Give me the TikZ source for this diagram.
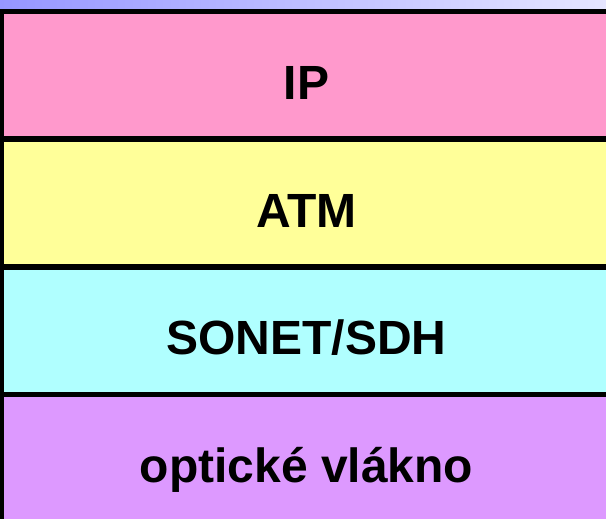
\documentclass[tikz,border=0pt]{standalone}
\usepackage{fontspec}
\setmainfont{Liberation Sans}
\definecolor{lypink}{RGB}{255,153,204}
\definecolor{lyyellow}{RGB}{255,255,153}
\definecolor{lycyan}{RGB}{176,255,255}
\definecolor{lypurple}{RGB}{221,153,255}
\definecolor{barleft}{RGB}{150,150,255}
\definecolor{barright}{RGB}{230,230,255}

\begin{document}
\begin{tikzpicture}[x=1pt, y=-1pt,
  layer/.style={draw=black, line width=5.5pt, rectangle, inner sep=0pt, outer sep=0pt,
    minimum width=610pt, minimum height=127.7pt, text height=48.5pt, text depth=0pt,
    font=\fontsize{48}{48}\selectfont\bfseries}]
\useasboundingbox (0,0) rectangle (606,519);
% title bar
\fill[left color=barleft, right color=barright] (0,0) rectangle (606,9);
% protocol stack
\node[layer, fill=lypink] (ip) at (306.5,75.2) {IP};
\node[layer, fill=lyyellow] (atm) at (306.5,202.9) {ATM};
\node[layer, fill=lycyan] (sonet) at (306.5,330.6) {SONET/SDH};
\node[layer, fill=lypurple] (fiber) at (306.5,458.3) {optické vlákno};
\end{tikzpicture}
\end{document}
